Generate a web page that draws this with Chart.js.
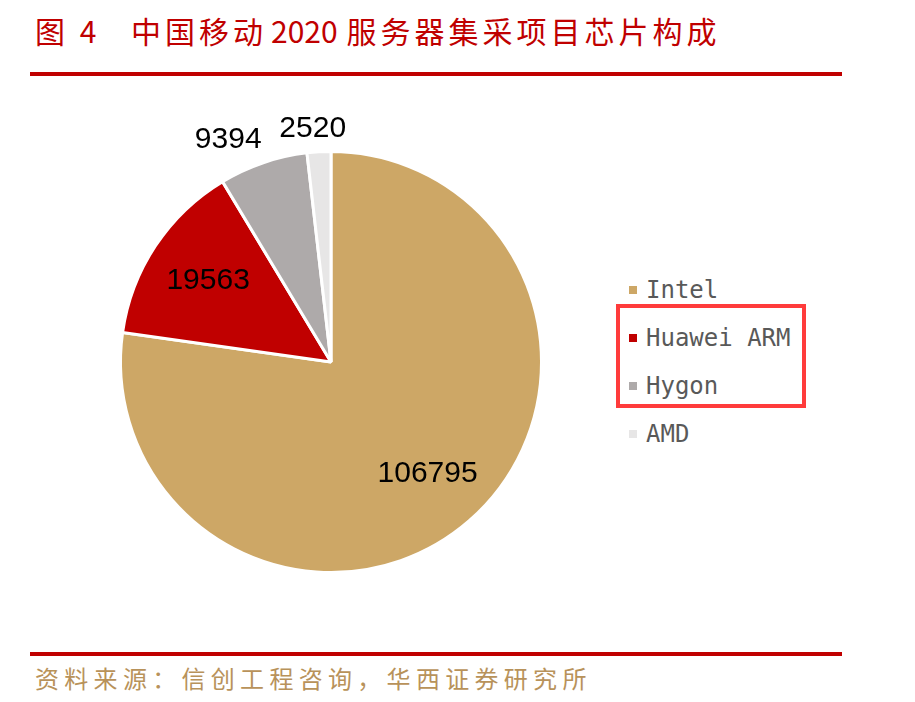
<!DOCTYPE html>
<html>
<head>
<meta charset="utf-8">
<script src="https://cdn.jsdelivr.net/npm/chart.js@4"></script>
<style>
  body { margin: 0; width: 915px; height: 702px; background: #fff; position: relative; overflow: hidden; }
  .title { position: absolute; top: 8px; color: #c00000; font-family: "Noto Sans CJK SC", sans-serif; font-size: 30px; letter-spacing: 4px; white-space: nowrap; }
  .title b { font-weight: normal; letter-spacing: 0; margin-left: 4px; margin-right: 9px; }
  .rule { position: absolute; left: 30px; width: 812px; height: 4px; background: #c00000; }
  .source { position: absolute; left: 35px; top: 660px; color: #b8925a; font-family: "Noto Sans CJK SC", sans-serif; font-size: 24px; letter-spacing: 5.3px; white-space: nowrap; }
  #box { position: absolute; left: 80px; top: 100px; width: 502px; height: 524px; }
  .legend { position: absolute; left: 629px; font-family: "DejaVu Sans Mono", monospace; font-size: 24px; color: #595959; white-space: nowrap; }
  .legend i { display: inline-block; width: 8px; height: 8px; margin-right: 9px; vertical-align: 4px; }
  .mark { position: absolute; left: 616px; top: 304px; width: 182px; height: 96px; border: 4px solid #ff3b3b; }
</style>
</head>
<body>
<div class="title" style="left:35px">图 4</div>
<div class="title" style="left:131px">中国移动<b>2020</b>服务器集采项目芯片构成</div>
<div class="rule" style="top:72px"></div>
<div id="box"><canvas id="chartCanvas"></canvas></div>
<div id="legend"></div>
<div class="mark"></div>
<div class="rule" style="top:652px"></div>
<div class="source">资料来源：信创工程咨询，华西证券研究所</div>
<script>
// chip vendors and unit counts
const vendors = ['Intel', 'Huawei ARM', 'Hygon', 'AMD'];
const units = [106795, 19563, 9394, 2520];
const sliceColors = ['#cda766', '#c00000', '#aeaaaa', '#e7e6e6'];

// legend on the right, from the same arrays
const legend = document.getElementById('legend');
vendors.forEach((name, i) => {
  const row = document.createElement('div');
  row.className = 'legend';
  row.style.top = (276 + i * 48) + 'px';
  row.innerHTML = `<i style="background:${sliceColors[i]}"></i>${name}`;
  legend.appendChild(row);
});

// value labels: big slices inside, small ones just outside the rim
const sliceLabels = {
  id: 'sliceLabels',
  afterDatasetsDraw(chart) {
    const ctx = chart.ctx;
    const meta = chart.getDatasetMeta(0);
    const total = units.reduce((a, b) => a + b, 0);
    ctx.save();
    ctx.font = '30px "Liberation Sans", Arial, sans-serif';
    ctx.fillStyle = '#000';
    ctx.textAlign = 'center';
    ctx.textBaseline = 'middle';
    const clamp = v => Math.max(-1, Math.min(1, v));
    meta.data.forEach((arc, i) => {
      const { x, y, startAngle, endAngle, outerRadius } = arc.getProps(['x', 'y', 'startAngle', 'endAngle', 'outerRadius']);
      const mid = (startAngle + endAngle) / 2;
      const cos = Math.cos(mid), sin = Math.sin(mid);
      const text = String(units[i]);
      if (units[i] / total < 0.1) {
        const w = ctx.measureText(text).width, h = 30;
        const px = x + cos * outerRadius * 1.04, py = y + sin * outerRadius * 1.04;
        ctx.fillText(text, px + clamp(cos * 3) * w / 2, py + clamp(sin * 3) * h / 2);
      } else {
        const r = outerRadius * 0.7;
        ctx.fillText(text, x + cos * r, y + sin * r);
      }
    });
    ctx.restore();
  }
};

new Chart(document.getElementById('chartCanvas'), {
  type: 'pie',
  data: {
    labels: vendors,
    datasets: [{
      data: units,
      backgroundColor: sliceColors,
      borderColor: '#fff',
      borderWidth: 3,
      hoverOffset: 0
    }]
  },
  options: {
    responsive: true,
    maintainAspectRatio: false,
    animation: false,
    layout: { padding: { left: 39, right: 39, top: 50, bottom: 50 } },
    plugins: { legend: { display: false }, tooltip: { enabled: false } }
  },
  plugins: [sliceLabels]
});
</script>
</body>
</html>
